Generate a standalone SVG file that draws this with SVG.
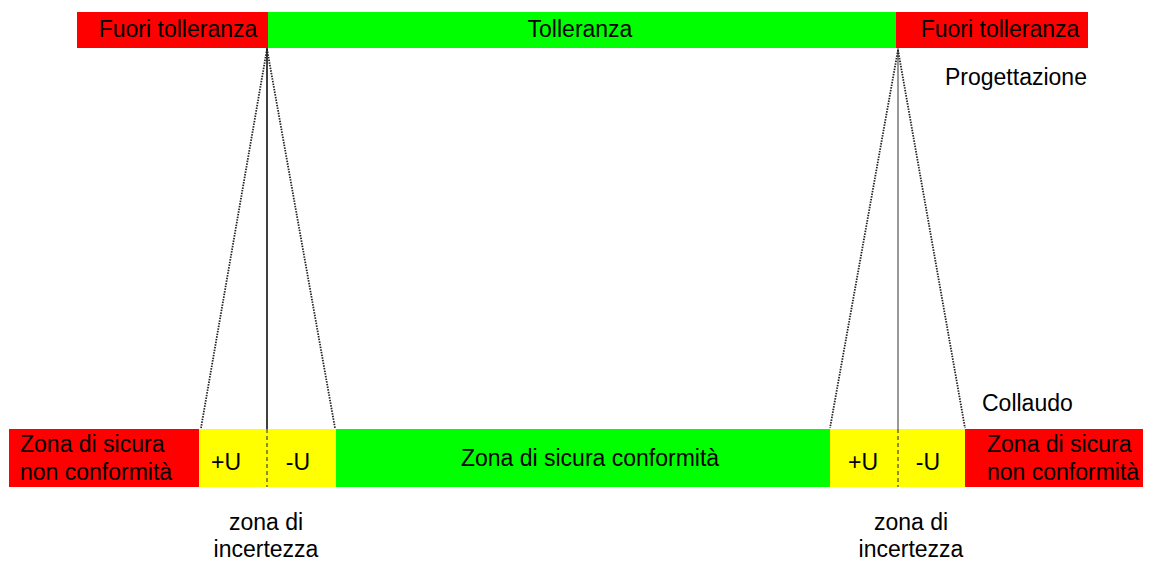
<svg xmlns="http://www.w3.org/2000/svg" width="1150" height="561" viewBox="0 0 1150 561">
<style>
.red{fill:#FF0000}.green{fill:#00FF00}.yellow{fill:#FFFF00}
text{font-family:"Liberation Sans",Arial,sans-serif;font-size:23px;fill:#000}
.c{text-anchor:middle}
.dot{stroke:#222;stroke-width:1.8;stroke-dasharray:1.5 1.2;fill:none}
.dash{stroke:#444;stroke-width:1.2;stroke-dasharray:4 3;fill:none}
</style>
<rect width="1150" height="561" fill="#fff"/>
<g id="top-left-out"><rect class="red" x="77" y="12" width="191" height="36"/><text class="c" x="178" y="37">Fuori tolleranza</text></g>
<g id="top-tol"><rect class="green" x="268" y="12" width="628" height="36"/><text class="c" x="580" y="37">Tolleranza</text></g>
<g id="top-right-out"><rect class="red" x="896" y="12" width="192" height="36"/><text class="c" x="1000" y="37">Fuori tolleranza</text></g>
<g id="label-prog"><text x="945" y="85">Progettazione</text></g>
<g id="label-coll"><text x="982" y="411">Collaudo</text></g>
<g id="bot-left-nc"><rect class="red" x="9" y="429" width="190" height="58"/><text x="20" y="452">Zona di sicura</text><text x="20" y="480">non conformità</text></g>
<g id="bot-left-pu"><rect class="yellow" x="199" y="429" width="68" height="58"/><text class="c" x="226" y="470">+U</text></g>
<g id="bot-left-mu"><rect class="yellow" x="267" y="429" width="69" height="58"/><text class="c" x="298" y="470">-U</text></g>
<g id="bot-conf"><rect class="green" x="336" y="429" width="494" height="58"/><text class="c" x="590" y="466">Zona di sicura conformità</text></g>
<g id="bot-right-pu"><rect class="yellow" x="830" y="429" width="68" height="58"/><text class="c" x="863" y="470">+U</text></g>
<g id="bot-right-mu"><rect class="yellow" x="898" y="429" width="67" height="58"/><text class="c" x="928" y="470">-U</text></g>
<g id="bot-right-nc"><rect class="red" x="965" y="429" width="178" height="58"/><text x="987" y="452">Zona di sicura</text><text x="987" y="480">non conformità</text></g>
<g id="unc-left"><text class="c" x="266" y="530">zona di</text><text class="c" x="266" y="557">incertezza</text></g>
<g id="unc-right"><text class="c" x="911" y="530">zona di</text><text class="c" x="911" y="557">incertezza</text></g>
<g id="connectors">
<line x1="267" y1="48" x2="267" y2="429" stroke="#000" stroke-width="1.5"/>
<line x1="267" y1="429" x2="267" y2="487" class="dash"/>
<line x1="267" y1="49" x2="201" y2="428" class="dot"/>
<line x1="267" y1="49" x2="335" y2="428" class="dot"/>
<line x1="898" y1="48" x2="898" y2="429" stroke="#777" stroke-width="1.5"/>
<line x1="898" y1="429" x2="898" y2="487" class="dash" stroke="#888"/>
<line x1="898" y1="50" x2="830" y2="428" class="dot"/>
<line x1="898" y1="50" x2="965" y2="428" class="dot"/>
</g>
</svg>
